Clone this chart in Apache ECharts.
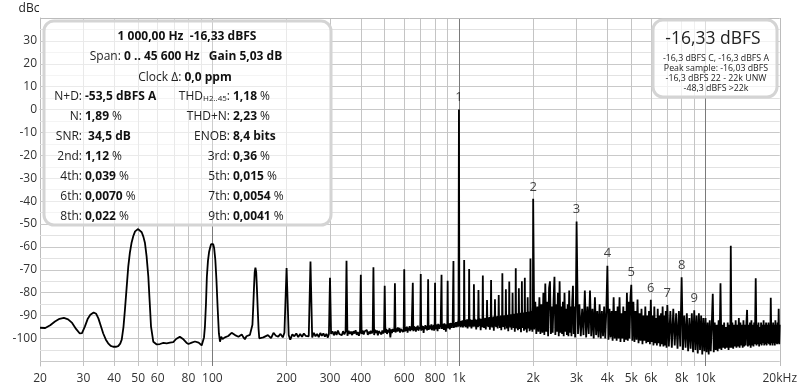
<!DOCTYPE html>
<html><head><meta charset="utf-8">
<script src="https://cdn.jsdelivr.net/npm/echarts@6/dist/echarts.min.js"></script>
<style>html,body{margin:0;padding:0;background:#fff}#c{width:800px;height:390px}</style>
</head><body><div id="c"></div>
<script>
// ---------- data ----------
const xTickValues = [20,30,40,50,60,80,100,200,300,400,600,800,1000,2000,3000,4000,5000,6000,8000,10000,20000];
const xTickLabels = ['20','30','40','50','60','80','100','200','300','400','600','800','1k','2k','3k','4k','5k','6k','8k','10k','20kHz'];
const yTickValues = [30,20,10,0,-10,-20,-30,-40,-50,-60,-70,-80,-90,-100];
const xGridMinor = [30,40,50,60,70,80,90,200,300,400,500,600,700,800,900,2000,3000,4000,5000,6000,7000,8000,9000];
const xGridMajor = [100,1000,10000];
const yGridMajor = [30,20,10,0,-10,-20,-30,-40,-50,-60,-70,-80,-90,-100,-110];
const yGridMinor = [35,25,15,5,-5,-15,-25,-35,-45,-55,-65,-75,-85,-95,-105];

const harmonicFreqs  = [1000,2000,3000,4000,5000,6000,7000,8000,9000];
const harmonicLevels = [0,-39,-48.9,-68.2,-76.5,-83.1,-85.4,-73.2,-87.7];
const harmonicLabels = ['1','2','3','4','5','6','7','8','9'];

const lowBand = [[20,-95.3],[21,-95.4],[22,-94.2],[23,-92.6],[24,-91.4],[25,-91],[26,-91.6],[27,-93.2],[28,-95.8],[29,-97.8],[29.6,-97.6],[30.4,-94.8],[31.2,-91.5],[32,-89.6],[33,-88.6],[33.8,-89.2],[34.5,-91.2],[35.3,-94.5],[36.1,-97.8],[37,-100.5],[37.8,-102.1],[38.7,-103.2],[39.6,-103.6],[40.6,-103.6],[41.5,-103.3],[42.3,-102.2],[42.9,-100.5],[43.6,-95],[44.2,-87.5],[44.9,-78],[45.6,-68.6],[46.3,-62.5],[47,-58.3],[47.8,-55.2],[48.6,-53.2],[49.3,-52.4],[50,-52.2],[50.8,-52.6],[51.7,-53.6],[52.5,-55.5],[53.3,-58.3],[54.1,-64],[55,-73],[55.7,-84],[56.4,-94.8],[57.6,-101.4],[58.5,-101.8],[59.5,-102.6],[60.5,-101.9],[61.3,-102.4],[62.3,-101.6],[63.3,-101.9],[64.3,-101.7],[65.3,-102.1],[67.3,-101.8],[69.4,-101.6],[70.4,-100.8],[71.3,-100.2],[72.5,-99.4],[73.8,-99.2],[75.1,-99.6],[76,-100.2],[77,-100.9],[78.5,-101.8],[80,-102.4],[81.1,-102.3],[82.5,-101.8],[84,-101.3],[85,-101.3],[86.5,-101.8],[88,-101.8],[89.1,-102],[90.5,-103],[91.5,-102.6],[92.5,-99.5],[93.3,-94.8],[94.2,-85],[95,-73],[96,-66],[97,-62.2],[97.8,-60.6],[98.8,-58.8],[99.9,-58],[100.8,-58.8],[101.7,-60.6],[102.8,-65.5],[103.9,-74.5],[105,-86],[106.3,-97.8],[107.4,-101.4],[108.6,-99.2],[110,-100.2],[111,-99.8],[112.4,-99.5],[114,-100],[116,-98.9],[118,-99.6],[119.7,-97.5],[121.5,-98.2],[123.6,-98.5],[125.5,-97.8],[127.6,-99.2],[129.5,-98.6],[131.6,-98.2],[133.5,-99.4],[135.5,-100.3],[137.5,-99],[139.8,-99.2],[142,-98.4],[144.2,-98.5],[145.4,-94],[146.3,-87.5],[147.5,-78],[148.5,-71],[149.5,-69],[150.6,-71],[151.6,-78],[152.8,-87.5],[154,-96],[155,-99.9]];

const midBand = [[161,-99.5],[168,-98.5],[173,-99.8],[177,-97.5],[181,-98.8],[185,-99.2],[189,-98],[193,-99.5],[196,-97.5],[200,-69.2],[204,-98.5],[207,-100.5],[211,-98.2],[215,-99],[219,-97.8],[223,-99.4],[227,-98],[231,-99.2],[235,-97.8],[239,-98.8],[243,-98],[246,-99],[250,-66.4],[254,-99.5],[258,-97.5],[262,-99],[266,-98],[270,-99.4],[274,-97.6],[278,-98.8],[282,-97.8],[286,-99.2],[290,-98],[294,-99.6],[297,-98],[300,-73.5],[303,-98],[307,-96.8],[311,-98.6],[315,-97],[319,-98.4],[323,-96.5],[327,-98],[331,-97.2],[335,-98.6],[339,-96.8],[343,-98.2],[347,-97],[350,-66],[353,-98.8],[357,-96.6],[361,-98],[365,-97],[369,-98.5],[373,-96.8],[377,-97.8],[381,-96.4],[385,-98.4],[389,-97.2],[393,-98.8],[397,-97],[400,-72.2],[403,-98],[407,-96.5],[411,-98.2],[415,-96.8],[419,-97.6],[423,-96.3],[427,-98.4],[431,-97],[435,-98],[439,-96.6],[443,-97.8],[447,-96.8],[450,-68.9],[453,-98.5],[457,-96.2],[461,-97.6],[465,-96.5],[469,-98.6],[473,-96.8],[477,-97.5],[481,-96],[485,-98.2],[489,-96.5],[493,-97.8],[497,-96.4],[500,-77],[503,-97.5],[507,-95.8],[511,-98],[515,-96.2],[519,-97.4],[523,-95.5],[527,-99.5],[531,-96],[535,-97.6],[539,-95.8],[543,-97],[547,-96],[550,-75.9],[553,-97.4],[557,-95.6],[561,-97],[565,-95.2],[569,-96.8],[573,-95.4],[577,-97.4],[581,-95.8],[585,-96.6],[589,-95],[593,-97.2],[597,-95.6],[600,-69.7],[603,-97],[607,-95],[611,-96.6],[615,-94.8],[619,-97.4],[623,-95.2],[627,-96.4],[631,-94.6],[635,-96.8],[639,-95],[643,-96.2],[647,-95.4],[650,-75.6],[653,-96.8],[657,-94.6],[661,-96.4],[665,-95],[669,-97],[673,-94.8],[677,-96.2],[681,-94.4],[685,-96.6],[689,-95],[693,-96],[697,-94.8],[700,-71.8],[703,-96.6],[707,-94.4],[711,-96.2],[715,-94.6],[719,-97.6],[723,-94.8],[727,-96],[731,-94.2],[735,-95.8],[739,-94.6],[743,-96.4],[747,-94.8],[750,-74.1],[753,-96.2],[757,-94.2],[761,-96],[765,-94.4],[769,-95.6],[773,-93.8],[777,-96.4],[781,-94.6],[785,-95.8],[789,-94],[793,-96.6],[797,-94.4],[800,-75.6],[803,-96],[807,-93.8],[811,-95.6],[815,-94.2],[819,-96.8],[823,-93.6],[827,-95.4],[831,-94],[835,-95.8],[839,-93.8],[843,-95],[847,-94.4],[850,-72.2],[853,-95.8],[857,-93.6],[861,-95.4],[865,-93.8],[869,-96.2],[873,-93.4],[877,-95],[881,-93.8],[885,-97],[889,-94],[893,-95.2],[897,-93.6],[900,-74.8],[903,-95.6],[907,-93.4],[911,-95.2],[915,-93.6],[919,-96],[923,-93.2],[927,-94.8],[931,-93.4],[935,-95.4],[939,-93.2],[943,-94.6],[947,-93.8],[950,-66.1],[953,-95.4],[957,-93.2],[961,-95],[965,-93.4],[969,-94.6],[973,-92.8],[977,-95],[981,-93.2],[985,-94.2],[989,-92.6],[993,-94.8],[996,-91],[1000,0],[1004,-91],[1008,-94.6],[1013,-92.6],[1018,-95],[1023,-92.4],[1028,-94.4],[1033,-92],[1038,-95.2],[1043,-92.6],[1047,-94],[1050,-65.7],[1054,-94.6],[1059,-91.8],[1064,-95],[1069,-92.2],[1074,-94.2],[1079,-91.6],[1084,-95.6],[1089,-92],[1094,-94],[1097,-92.4],[1100,-69.6],[1104,-94.8],[1109,-91.6],[1114,-94.4],[1119,-92],[1124,-95.6],[1129,-91.8],[1134,-94],[1139,-92.2],[1144,-94.8],[1147,-92.4],[1150,-76.3],[1155,-94.4],[1160,-91.4],[1165,-94.8],[1170,-91.8],[1175,-96],[1180,-92],[1185,-94.2],[1190,-91.6],[1195,-95],[1200,-78.8],[1205,-94.6],[1210,-91.2],[1215,-94],[1220,-91.8],[1225,-96.4],[1230,-91.4],[1235,-94.4],[1240,-92],[1245,-95],[1250,-72.5],[1255,-94],[1260,-91.2],[1265,-95.4],[1270,-91.6],[1275,-94.2],[1280,-91],[1285,-96],[1290,-91.8],[1295,-94.6],[1300,-83.2],[1305,-94.2],[1310,-90.8],[1315,-95],[1320,-91.4],[1325,-94],[1330,-90.6],[1335,-96.2],[1340,-91.6],[1345,-94.8],[1350,-74.4],[1355,-94.4],[1360,-90.8],[1365,-95.2],[1370,-91.2],[1375,-94],[1380,-90.4],[1385,-96.6],[1390,-91.4],[1395,-94.2],[1400,-82.9],[1405,-94.6],[1410,-90.6],[1415,-95],[1420,-91],[1425,-93.8],[1430,-90.2],[1435,-95.6],[1440,-91.2],[1445,-94.4],[1450,-81],[1455,-94],[1460,-90.4],[1465,-95.4],[1470,-90.8],[1475,-94.2],[1480,-90],[1485,-96.4],[1490,-91],[1495,-94],[1500,-71.5],[1505,-94.8],[1510,-90.2],[1515,-95],[1520,-90.6],[1525,-93.8],[1530,-89.8],[1535,-96],[1540,-90.8],[1545,-94.2],[1550,-78.5],[1555,-94.4],[1560,-90],[1565,-95.6],[1570,-90.4],[1575,-94],[1580,-89.6],[1585,-96.8],[1590,-90.6],[1595,-94.4],[1600,-75.1],[1605,-94.6],[1610,-89.8],[1615,-95.2],[1620,-90.2],[1625,-93.6],[1630,-89.4],[1635,-96.2],[1640,-90.4],[1645,-94],[1650,-80],[1655,-94.2],[1660,-89.6],[1665,-95.4],[1670,-90],[1675,-93.8],[1680,-89.2],[1685,-97],[1690,-90.2],[1695,-94.2],[1700,-69.3],[1705,-94.4],[1710,-89.4],[1715,-95.6],[1720,-89.8],[1725,-94],[1730,-89],[1735,-96.4],[1740,-90],[1745,-94.4],[1750,-78],[1755,-94],[1760,-89.2],[1765,-95.8],[1770,-89.6],[1775,-93.6],[1780,-88.8],[1785,-97.2],[1790,-89.8],[1795,-94.2],[1800,-75],[1805,-94.6],[1810,-89],[1815,-95.4],[1820,-89.4],[1825,-93.8],[1830,-88.6],[1835,-96.6],[1840,-89.6],[1845,-94],[1850,-73.5],[1855,-94.2],[1860,-88.8],[1865,-96],[1870,-89.2],[1875,-93.4],[1880,-88.4],[1885,-97.4],[1890,-89.4],[1895,-94.4],[1900,-82],[1905,-94.8],[1910,-88.6],[1915,-95.6],[1920,-89],[1925,-93.6],[1930,-88.2],[1935,-96.8],[1940,-89.2],[1945,-94],[1950,-65],[1955,-94.4],[1960,-88.4],[1965,-96.2],[1970,-88.8],[1975,-93.8],[1980,-88],[1985,-97],[1990,-89],[1995,-86]];

const highBand = [[2000,-39],[2020,-96],[2040,-84],[2060,-98],[2080,-86],[2100,-97],[2120,-82],[2140,-98],[2160,-85],[2180,-97.5],[2200,-80],[2220,-98.5],[2240,-76],[2260,-97],[2280,-84],[2300,-99],[2320,-78],[2340,-75],[2360,-98],[2380,-86],[2400,-97.5],[2420,-83],[2440,-73],[2460,-98.5],[2480,-85],[2500,-97],[2520,-80],[2540,-99],[2560,-75],[2580,-97.5],[2600,-86],[2620,-98],[2640,-84],[2660,-99],[2680,-80],[2700,-97],[2720,-87],[2740,-98.5],[2760,-85],[2780,-99],[2800,-79],[2820,-97.5],[2840,-86],[2860,-99],[2880,-84],[2900,-77],[2920,-98],[2940,-86],[2960,-99.5],[2980,-85],[3000,-48.9],[3040,-98],[3080,-85],[3120,-99],[3160,-87],[3200,-98.5],[3240,-79],[3280,-99.5],[3320,-86],[3360,-98],[3400,-79],[3440,-99],[3480,-87],[3520,-100],[3560,-82],[3600,-98.5],[3640,-88],[3680,-99.5],[3720,-85],[3760,-100],[3800,-88],[3840,-99],[3880,-86],[3920,-100],[3960,-88],[4000,-68.2],[4040,-100.5],[4080,-87],[4120,-99.5],[4160,-88],[4200,-101],[4240,-82],[4280,-100],[4320,-88],[4360,-101],[4400,-86],[4440,-100],[4480,-82],[4520,-101.5],[4560,-89],[4600,-100],[4640,-86],[4680,-101.5],[4720,-88],[4760,-100.5],[4800,-80],[4840,-101],[4880,-84],[4920,-100],[4960,-82],[5000,-76.5],[5050,-101],[5100,-84],[5150,-101.5],[5200,-88],[5250,-100.5],[5300,-83],[5350,-102],[5400,-89],[5450,-101],[5500,-87],[5550,-102.5],[5600,-90],[5650,-101],[5700,-86],[5750,-102],[5800,-90],[5850,-101.5],[5900,-88],[5950,-102.5],[6000,-83.1],[6050,-101.5],[6100,-90],[6150,-103],[6200,-86],[6250,-102],[6300,-91],[6350,-103],[6400,-87],[6450,-102],[6500,-90],[6550,-103.5],[6600,-89],[6650,-102.5],[6700,-86],[6750,-103.5],[6800,-90],[6850,-103],[6900,-88],[6950,-104],[7000,-85.4],[7100,-103.5],[7200,-88],[7300,-104],[7400,-87],[7500,-103],[7600,-89],[7700,-104.5],[7800,-88],[7900,-103.5],[8000,-73.2],[8100,-105],[8200,-90],[8300,-104],[8400,-89],[8500,-105.5],[8600,-91],[8700,-104.5],[8800,-89],[8900,-106],[9000,-87.7],[9100,-105],[9200,-90],[9300,-106.5],[9400,-89],[9500,-105],[9600,-90],[9700,-107],[9800,-91],[9900,-105.5],
[10000,-91],[10100,-106],[10200,-93],[10300,-107],[10400,-92],[10500,-105.5],[10600,-94],[10700,-80.5],[10800,-106],[10900,-93],[11000,-105],[11100,-94],[11200,-105.5],[11300,-92],[11400,-104.5],[11500,-75.9],[11600,-105],[11700,-94],[11800,-104],[11900,-93],[12000,-104.5],[12100,-95],[12200,-104],[12300,-93],[12400,-105],[12500,-94],[12600,-104],[12660,-59.5],[12750,-104],[12850,-93],[12950,-104.5],[13050,-94],[13150,-103.5],[13250,-92],[13350,-104],[13450,-94],[13550,-103.5],[13650,-91],[13750,-104],[13850,-93],[13950,-103],[14050,-94],[14150,-104],[14250,-92],[14350,-103.5],[14450,-94],[14550,-103],[14650,-93],[14740,-87.5],[14850,-103.5],[14950,-94],[15050,-103],[15150,-93],[15250,-104],[15350,-92],[15450,-103],[15550,-94],[15650,-103.5],[15750,-93],[15850,-102.5],[15980,-73.7],[16100,-103],[16200,-94],[16300,-102.5],[16400,-93],[16500,-103.5],[16600,-95],[16700,-102.5],[16800,-93],[16900,-103],[17000,-94],[17100,-102],[17200,-92],[17300,-103],[17400,-94],[17500,-102.5],[17600,-93],[17700,-103],[17800,-94],[17900,-102],[18000,-93],[18100,-102.5],[18200,-94],[18300,-103],[18390,-82.2],[18500,-102],[18600,-94],[18700,-103],[18800,-93],[18900,-102],[19000,-94],[19100,-103],[19200,-92],[19300,-102],[19400,-94],[19500,-102.5],[19600,-93],[19700,-102],[19800,-87],[19900,-102.5],[20000,-94]];

// ---------- chart ----------
const FONT = 'Open Sans';
const FS = 12;
const spectrum = lowBand.concat(midBand, highBand);
const chart = echarts.init(document.getElementById('c'), null, {renderer:'canvas'});

function vLine(v, color){ return {xAxis:v, lineStyle:{color:color}}; }
function hLine(v, color){ return {yAxis:v, lineStyle:{color:color}}; }
const gridLines = []
  .concat(yGridMinor.map(v=>hLine(v,'#e2e2e2')))
  .concat(yGridMajor.map(v=>hLine(v,'#c9c9c9')))
  .concat(xGridMinor.map(v=>vLine(v,'#c4c4c4')))
  .concat(xGridMajor.map(v=>vLine(v,'#7a7a7a')))
  .concat([hLine(40,'#bcbcbc'), vLine(20000,'#bcbcbc')]);

const bold = {fontFamily:FONT, fontWeight:'bold', fontSize:FS, fill:'#111'};
const reg  = {fontFamily:FONT, fontWeight:'normal', fontSize:FS, fill:'#222'};
function txt(x,y,text,align){
  return {type:'text', z:101, style:{x:x, y:y, text:text, textAlign:align, textVerticalAlign:'middle',
    fontFamily:FONT, fontSize:FS, fill:'#222', rich:{b:bold, r:reg, s:{fontFamily:FONT,fontSize:8,fill:'#222',padding:[4,0,0,0]}}}};
}
const leftRows = [
  [97,'N+D:','{b|-53,5 dBFS A}', 'THD{s|H2..45}:','{b|1,18} %'],
  [117,'N:','{b|1,89} %','THD+N:','{b|2,23} %'],
  [137,'SNR:',' {b|34,5 dB}','ENOB:','{b|8,4 bits}'],
  [157,'2nd:','{b|1,12} %','3rd:','{b|0,36} %'],
  [177,'4th:','{b|0,039} %','5th:','{b|0,015} %'],
  [197,'6th:','{b|0,0070} %','7th:','{b|0,0054} %'],
  [217,'8th:','{b|0,022} %','9th:','{b|0,0041} %']
];
const small = (y,t)=>({type:'text', z:101, style:{x:716,y:y,text:t,textAlign:'center',textVerticalAlign:'middle',fontFamily:FONT,fontSize:8.8,fill:'#222'}});
const graphics = [
  {type:'rect', z:100, shape:{x:44,y:21,width:287,height:204,r:10}, style:{fill:'rgba(255,255,255,0.62)', stroke:'#d4d4d4', lineWidth:3}},
  txt(187,37,'{b|1 000,00 Hz  -16,33 dBFS}','center'),
  txt(186,57,'Span: {b|0 .. 45 600 Hz   Gain 5,03 dB}','center'),
  txt(185,78,'Clock Δ: {b|0,0 ppm}','center'),
  {type:'rect', z:100, shape:{x:653,y:20,width:124,height:77,r:10}, style:{fill:'rgba(255,255,255,0.75)', stroke:'#d4d4d4', lineWidth:3}},
  {type:'text', z:101, style:{x:713,y:39,text:'-16,33 dBFS',textAlign:'center',textVerticalAlign:'middle',fontFamily:FONT,fontSize:17.5,fill:'#222'}},
  small(58,'-16,3 dBFS C, -16,3 dBFS A'),
  small(68.5,'Peak sample: -16,03 dBFS'),
  small(78.5,'-16,3 dBFS 22 - 22k UNW'),
  small(88,'-48,3 dBFS >22k'),
  {type:'text', z:101, style:{x:29,y:9,text:'dBc',textAlign:'center',textVerticalAlign:'middle',fontFamily:FONT,fontSize:12,fill:'#222'}}
];
leftRows.forEach(r=>{
  graphics.push(txt(82,r[0],r[1],'right'));
  graphics.push(txt(85,r[0],r[2],'left'));
  graphics.push(txt(230,r[0],r[3],'right'));
  graphics.push(txt(233,r[0],r[4],'left'));
});

function xLabel(v){
  let best=0, bd=1e9;
  xTickValues.forEach((t,i)=>{const d=Math.abs(Math.log10(t)-Math.log10(v)); if(d<bd){bd=d;best=i;}});
  return xTickLabels[best];
}

chart.setOption({
  animation:false,
  grid:{left:40,right:20,top:18,bottom:24},
  xAxis:{type:'log', logBase:10, min:20, max:20000,
    axisLine:{show:true, lineStyle:{color:'#bcbcbc'}}, axisTick:{show:false}, splitLine:{show:false},
    axisLabel:{customValues:xTickValues, formatter:xLabel, color:'#333', fontSize:12, fontFamily:FONT, margin:7}},
  yAxis:{type:'value', min:-112, max:40,
    axisLine:{show:true, lineStyle:{color:'#bcbcbc'}}, axisTick:{show:false}, splitLine:{show:false},
    axisLabel:{customValues:yTickValues, color:'#333', fontSize:12, fontFamily:FONT, margin:3}},
  series:[
    {type:'line', z:1, silent:true, data:[[20,-112]], showSymbol:false, lineStyle:{width:0},
      markLine:{silent:true, z:1, symbol:['none','none'], animation:false, label:{show:false},
        lineStyle:{type:'solid', width:1}, emphasis:{disabled:true}, data:gridLines}},
    {type:'line', z:3, data:spectrum, showSymbol:false, symbol:'none', sampling:null, silent:true,
      lineStyle:{color:'#000', width:1.8}},
    {type:'scatter', z:4, silent:true, symbolSize:1, itemStyle:{color:'rgba(0,0,0,0)'},
      data:harmonicFreqs.map((f,i)=>[f, harmonicLevels[i]]),
      label:{show:true, position:'top', distance:5, formatter:p=>harmonicLabels[p.dataIndex], color:'#111', fontSize:13, fontFamily:FONT}}
  ],
  graphic:graphics
});
</script></body></html>
